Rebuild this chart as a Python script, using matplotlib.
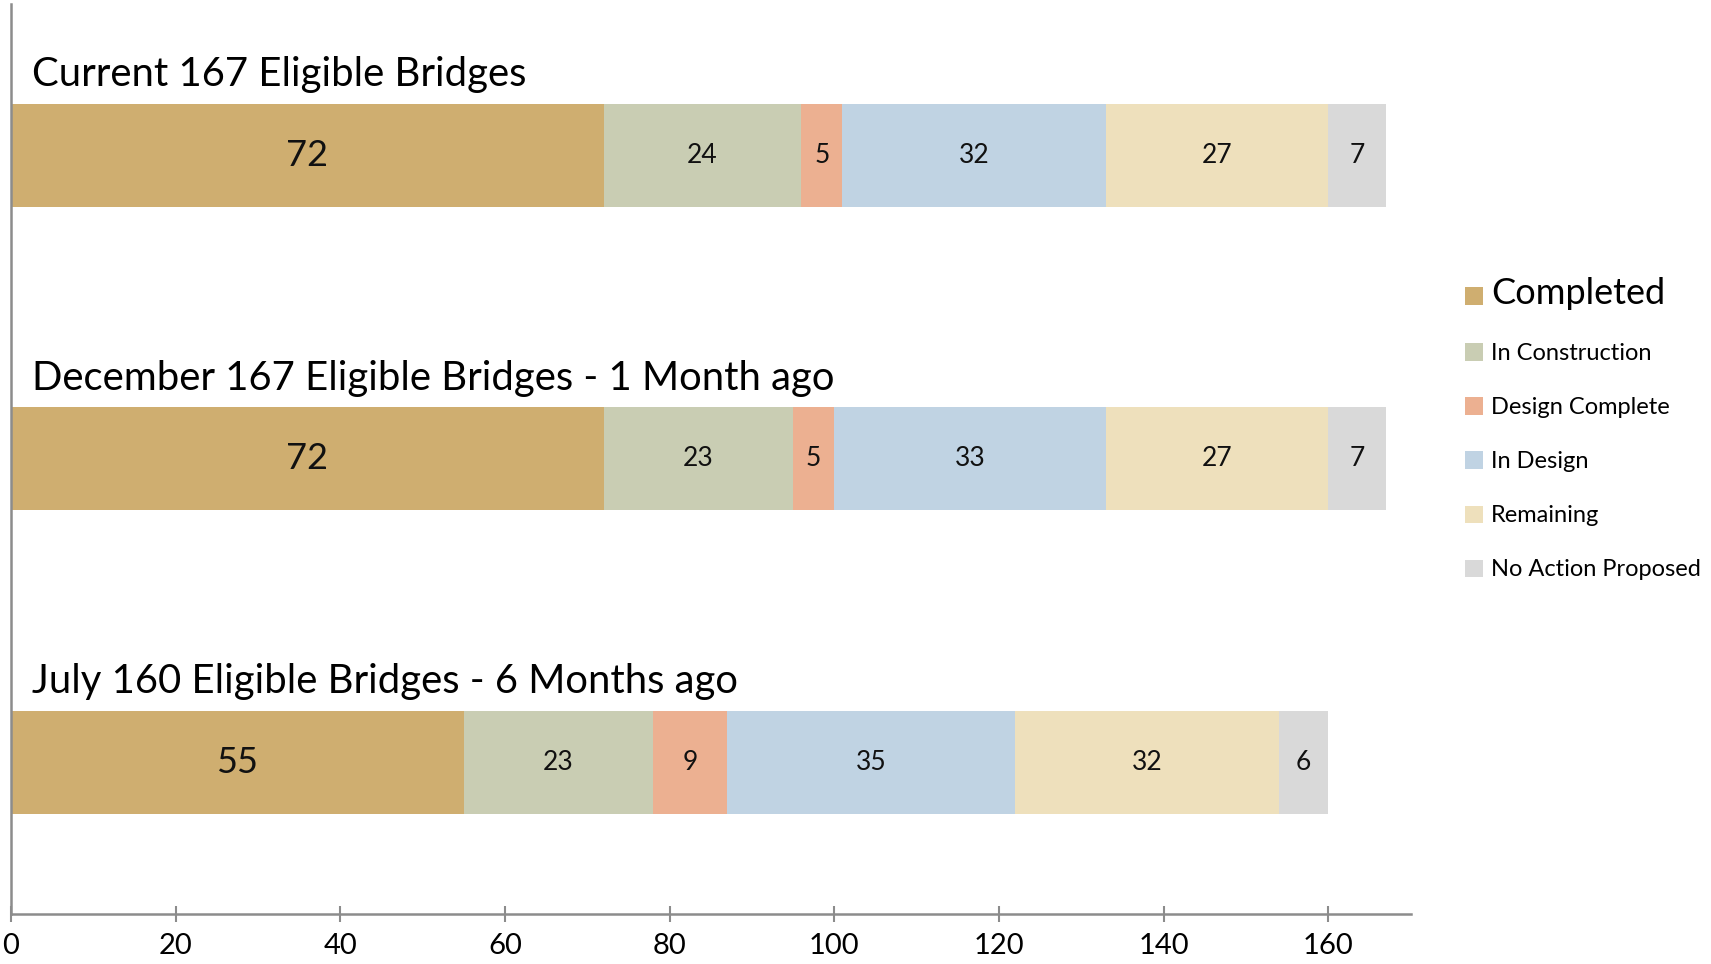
import matplotlib
matplotlib.use("Agg")
import matplotlib.pyplot as plt
import numpy as np

plt.rcParams["font.family"] = ["Lato", "DejaVu Sans"]

# data
periods = ["Current", "December", "July"]
titles = [
    "Current 167 Eligible Bridges",
    "December 167 Eligible Bridges - 1 Month ago",
    "July 160 Eligible Bridges - 6 Months ago",
]
statuses = ["Completed", "In Construction", "Design Complete",
            "In Design", "Remaining", "No Action Proposed"]
completed = [72, 72, 55]
in_construction = [24, 23, 23]
design_complete = [5, 5, 9]
in_design = [32, 33, 35]
remaining = [27, 27, 32]
no_action = [7, 7, 6]

series = [completed, in_construction, design_complete, in_design, remaining, no_action]
colors = ["#CFAE70", "#C9CDB3", "#ECB091", "#C0D3E3", "#EEE0BC", "#D9D9D9"]

fig = plt.figure(figsize=(17.11, 9.64), dpi=100)
ax = fig.add_axes([0.0064, 0.052, 0.818, 0.944])

y = np.arange(len(periods))
left = np.zeros(len(periods))
for name, vals, col in zip(statuses, series, colors):
    bars = ax.barh(y, vals, left=left, height=0.34, color=col, label=name, zorder=2)
    fs = 26 if name == "Completed" else 19
    ax.bar_label(bars, labels=[str(v) for v in vals], label_type="center",
                 fontsize=fs, color="#111111")
    left += np.array(vals)

for yi, t in zip(y, titles):
    ax.text(2.6, yi - 0.228, t, fontsize=28.8, va="baseline", ha="left", zorder=3,
            bbox=dict(facecolor="white", edgecolor="none", pad=6))

ax.set_ylim(2.5, -0.5)
ax.set_xlim(0, 170)
ax.set_yticks([])
ax.set_xticks(np.arange(0, 161, 20))
ax.tick_params(axis="x", direction="inout", length=12, width=1.5, color="#8C8C8C",
               labelsize=21, pad=8)
for s in ["top", "right"]:
    ax.spines[s].set_visible(False)
for s in ["left", "bottom"]:
    ax.spines[s].set_color("#8C8C8C")
    ax.spines[s].set_linewidth(1.8)

leg = ax.legend(loc="center left", bbox_to_anchor=(1.024, 0.533), frameon=False,
                fontsize=17, handlelength=0.75, handleheight=0.75,
                handletextpad=0.35, labelspacing=1.4)
leg.get_texts()[0].set_fontsize(26)

fig.savefig("out.png", dpi=100)
